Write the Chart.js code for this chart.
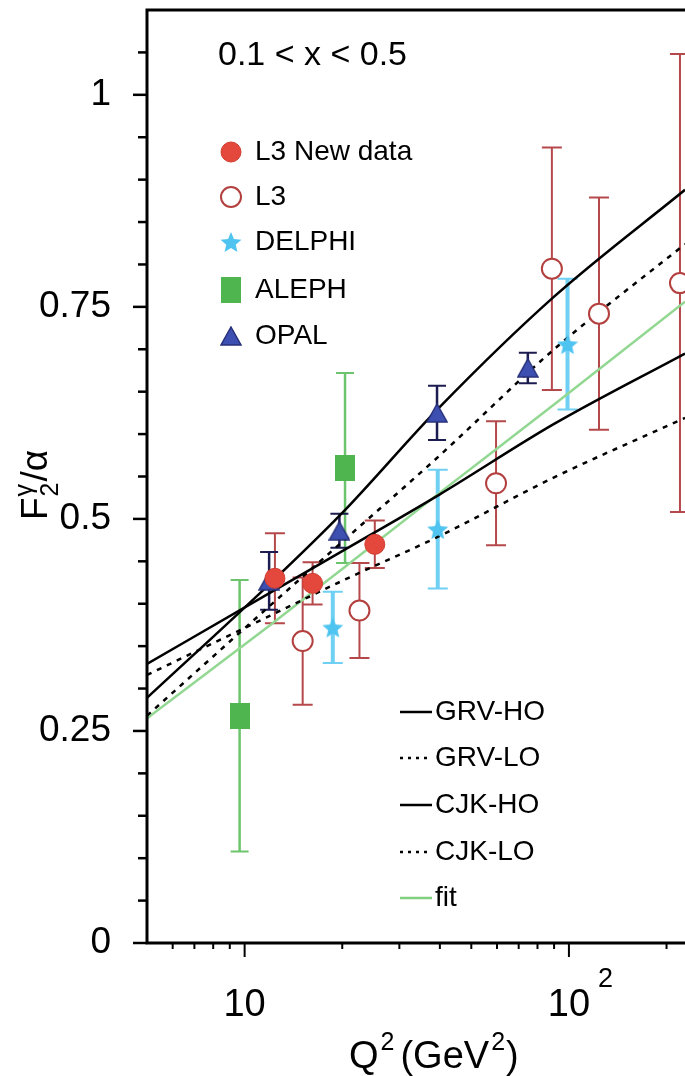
<!DOCTYPE html>
<html>
<head>
<meta charset="utf-8">
<script src="https://cdn.jsdelivr.net/npm/chart.js@4.4.1/dist/chart.umd.min.js"></script>
<style>
html,body{margin:0;padding:0;background:#ffffff;}
canvas{display:block;}
</style>
</head>
<body>
<canvas id="c" width="685" height="1076"></canvas>
<script>
// ---------- data ----------
const panelLabel = '0.1 < x < 0.5';
const yTickValues = [0, 0.25, 0.5, 0.75, 1];
const yTickLabels = ['0', '0.25', '0.5', '0.75', '1'];
const yMinorTicks = [0.05, 0.1, 0.15, 0.2, 0.3, 0.35, 0.4, 0.45, 0.55, 0.6, 0.65, 0.7, 0.8, 0.85, 0.9, 0.95, 1.05];
const xTickValues = [10, 100];
const xTickBase = ['10', '10'];
const xTickSup = ['', '2'];
const xMinorTicks = [6, 7, 8, 9, 20, 30, 40, 50, 60, 70, 80, 90, 200];

const l3NewQ2 = [12.4, 16.2, 25.2];
const l3NewF2 = [0.430, 0.424, 0.470];
const l3NewErr = [0.053, 0.025, 0.028];

const l3Q2 = [15.1, 22.6, 59.6, 88.6, 123.8, 220];
const l3F2 = [0.356, 0.392, 0.542, 0.795, 0.742, 0.778];
const l3Err = [0.075, 0.056, 0.073, 0.143, 0.137, 0.270];

const delphiQ2 = [18.7, 39.4, 99];
const delphiF2 = [0.372, 0.488, 0.706];
const delphiErr = [0.042, 0.070, 0.077];

const alephQ2 = [9.65, 20.4];
const alephF2 = [0.268, 0.560];
const alephErr = [0.160, 0.112];

const opalQ2 = [11.9, 19.6, 39.2, 74.7];
const opalF2 = [0.427, 0.486, 0.625, 0.678];
const opalErr = [0.034, 0.020, 0.032, 0.018];

const curveQ2 = [5, 12, 20, 40, 90, 228];
const grvHO = [0.289, 0.424, 0.507, 0.632, 0.762, 0.888];
const grvLO = [0.268, 0.398, 0.473, 0.575, 0.700, 0.824];
const cjkHO = [0.329, 0.413, 0.462, 0.529, 0.612, 0.695];
const cjkLO = [0.316, 0.386, 0.427, 0.480, 0.549, 0.619];
const fitF2 = [0.265, 0.375, 0.441, 0.531, 0.635, 0.756];

// ---------- styling helpers ----------
const FAM = "'Liberation Sans', Arial, Helvetica, sans-serif";
const fnt = px => px + 'px ' + FAM;

function pts(xs, ys) { return xs.map((x, i) => ({ x: x, y: ys[i] })); }

function makeStar(color, w, h) {
  const c = document.createElement('canvas'); c.width = w; c.height = h;
  const g = c.getContext('2d');
  g.fillStyle = color; g.beginPath();
  for (let i = 0; i < 10; i++) {
    const r = (i % 2 === 0) ? 1 : 0.45;
    const a = -Math.PI / 2 + i * Math.PI / 5;
    const px = w / 2 + r * (w / 2) * Math.cos(a);
    const py = h * 0.55 + r * (h * 0.5) * Math.sin(a);
    if (i === 0) g.moveTo(px, py); else g.lineTo(px, py);
  }
  g.closePath(); g.fill();
  return c;
}
function makeRect(color, w, h) {
  const c = document.createElement('canvas'); c.width = w; c.height = h;
  const g = c.getContext('2d'); g.fillStyle = color; g.fillRect(0, 0, w, h);
  return c;
}
function makeTri(color, edge, w, h) {
  const c = document.createElement('canvas'); c.width = w; c.height = h;
  const g = c.getContext('2d');
  g.fillStyle = color; g.strokeStyle = edge; g.lineWidth = 1.5;
  g.beginPath(); g.moveTo(w / 2, 1); g.lineTo(w - 1, h - 1); g.lineTo(1, h - 1); g.closePath();
  g.fill(); g.stroke();
  return c;
}

const starImg = makeStar('#4fc4f0', 22, 22);
const rectImg = makeRect('#4fb54f', 20, 26);
const triImg = makeTri('#3d50b2', '#27307a', 22, 20);

function lineDs(label, ys, color, dash) {
  return {
    type: 'line', label: label, data: pts(curveQ2, ys),
    borderColor: color, borderWidth: 2.5, borderDash: dash,
    pointRadius: 0, fill: false, cubicInterpolationMode: 'monotone', order: 5
  };
}

const datasets = [
  lineDs('GRV-HO', grvHO, '#000000', []),
  lineDs('GRV-LO', grvLO, '#000000', [5, 6]),
  lineDs('CJK-HO', cjkHO, '#000000', []),
  lineDs('CJK-LO', cjkLO, '#000000', [5, 6]),
  lineDs('fit', fitF2, '#92d892', []),
  { type: 'scatter', label: 'ALEPH', data: pts(alephQ2, alephF2), pointStyle: rectImg,
    errorBars: alephErr, errorColor: '#6cc46c', errorWidth: 2.5, capHalf: 9, order: 1 },
  { type: 'scatter', label: 'L3', data: pts(l3Q2, l3F2), pointStyle: 'circle', pointRadius: 10,
    backgroundColor: '#ffffff', borderColor: '#b3403f', borderWidth: 2,
    errorBars: l3Err, errorColor: '#b5484a', errorWidth: 2, capHalf: 10, order: 1 },
  { type: 'scatter', label: 'DELPHI', data: pts(delphiQ2, delphiF2), pointStyle: starImg,
    errorBars: delphiErr, errorColor: '#6fd0f4', errorWidth: 4, capHalf: 10, order: 1 },
  { type: 'scatter', label: 'L3 New data', data: pts(l3NewQ2, l3NewF2), pointStyle: 'circle', pointRadius: 10,
    backgroundColor: '#e4483c', borderColor: '#d23d31', borderWidth: 1,
    errorBars: l3NewErr, errorColor: '#b5484a', errorWidth: 2, capHalf: 10, order: 0 },
  { type: 'scatter', label: 'OPAL', data: pts(opalQ2, opalF2), pointStyle: triImg,
    errorBars: opalErr, errorColor: '#1c1c50', errorWidth: 2.5, capHalf: 9, order: 0 }
];

// ---------- plugins ----------
const errorBarPlugin = {
  id: 'errorBars',
  beforeDatasetsDraw(chart) {
    const ctx = chart.ctx, xs = chart.scales.x, ys = chart.scales.y, ca = chart.chartArea;
    ctx.save();
    ctx.beginPath(); ctx.rect(ca.left, ca.top, ca.right - ca.left, ca.bottom - ca.top); ctx.clip();
    chart.data.datasets.forEach(ds => {
      if (!ds.errorBars) return;
      ctx.strokeStyle = ds.errorColor; ctx.lineWidth = ds.errorWidth;
      ds.data.forEach((p, i) => {
        const e = ds.errorBars[i];
        const px = xs.getPixelForValue(p.x);
        const t = ys.getPixelForValue(p.y + e), b = ys.getPixelForValue(p.y - e);
        ctx.beginPath();
        ctx.moveTo(px, t); ctx.lineTo(px, b);
        ctx.stroke();
        ctx.lineWidth = 2;
        ctx.beginPath();
        ctx.moveTo(px - ds.capHalf, t); ctx.lineTo(px + ds.capHalf, t);
        ctx.moveTo(px - ds.capHalf, b); ctx.lineTo(px + ds.capHalf, b);
        ctx.stroke();
        ctx.lineWidth = ds.errorWidth;
      });
    });
    ctx.restore();
  }
};

function seg(ctx, x1, y1, x2, y2) { ctx.beginPath(); ctx.moveTo(x1, y1); ctx.lineTo(x2, y2); ctx.stroke(); }

const framePlugin = {
  id: 'frame',
  afterDraw(chart) {
    const ctx = chart.ctx, ca = chart.chartArea, xs = chart.scales.x, ys = chart.scales.y;
    ctx.save();
    ctx.strokeStyle = '#000'; ctx.lineWidth = 3; ctx.lineCap = 'butt';
    ctx.beginPath();
    ctx.moveTo(ca.right, ca.top); ctx.lineTo(ca.left, ca.top); ctx.lineTo(ca.left, ca.bottom); ctx.lineTo(ca.right, ca.bottom);
    ctx.stroke();
    ctx.lineWidth = 2.5;
    yTickValues.forEach(v => { const p = ys.getPixelForValue(v); seg(ctx, ca.left - 14, p, ca.left, p); });
    yMinorTicks.forEach(v => { const p = ys.getPixelForValue(v); seg(ctx, ca.left - 9, p, ca.left, p); });
    ctx.lineWidth = 2;
    xTickValues.forEach(v => { const p = xs.getPixelForValue(v); seg(ctx, p, ca.bottom, p, ca.bottom + 14); });
    xMinorTicks.forEach(v => { const p = xs.getPixelForValue(v); seg(ctx, p, ca.bottom, p, ca.bottom + 6); });

    // x tick labels
    ctx.fillStyle = '#000'; ctx.textBaseline = 'alphabetic';
    xTickValues.forEach((v, i) => {
      const p = xs.getPixelForValue(v);
      ctx.font = fnt(38); ctx.textAlign = 'center';
      ctx.fillText(xTickBase[i], p, ca.bottom + 73);
      if (xTickSup[i]) {
        const w = ctx.measureText(xTickBase[i]).width;
        ctx.font = fnt(27); ctx.textAlign = 'left';
        ctx.fillText(xTickSup[i], p + w / 2 + 8, ca.bottom + 44);
      }
    });

    // x axis title: Q^2 (GeV^2)
    let x = 349; const base = 1068;
    ctx.textAlign = 'left';
    ctx.font = fnt(38); ctx.fillText('Q', x, base); x += ctx.measureText('Q').width + 2;
    ctx.font = fnt(25); ctx.fillText('2', x, base - 18); x += ctx.measureText('2').width + 6;
    ctx.font = fnt(38); ctx.fillText('(GeV', x, base); x += ctx.measureText('(GeV').width + 2;
    ctx.font = fnt(25); ctx.fillText('2', x, base - 18); x += ctx.measureText('2').width + 1;
    ctx.font = fnt(38); ctx.fillText(')', x, base);

    // y axis title: F2^gamma / alpha (rotated)
    ctx.save();
    ctx.translate(47, 520); ctx.rotate(-Math.PI / 2);
    ctx.font = fnt(37); ctx.fillText('F', 0, 0);
    let wx = ctx.measureText('F').width + 1;
    ctx.font = fnt(25);
    ctx.fillText('\u03b3', wx, -15);
    ctx.fillText('2', wx, 11);
    wx += Math.max(ctx.measureText('\u03b3').width, ctx.measureText('2').width) + 1;
    ctx.font = fnt(37); ctx.fillText('/\u03b1', wx, 0);
    ctx.restore();

    // panel label
    ctx.font = fnt(34); ctx.textAlign = 'left'; ctx.textBaseline = 'middle';
    ctx.fillText(panelLabel, 218, 56);

    // data legend
    const rows = [
      { label: 'L3 New data', style: 'circle', fill: '#e4483c', stroke: '#d23d31', bw: 1, y: 152 },
      { label: 'L3', style: 'circle', fill: '#ffffff', stroke: '#b3403f', bw: 2, y: 197 },
      { label: 'DELPHI', style: starImg, y: 242 },
      { label: 'ALEPH', style: rectImg, y: 290 },
      { label: 'OPAL', style: triImg, y: 336 }
    ];
    rows.forEach(r => {
      ctx.fillStyle = r.fill || '#000'; ctx.strokeStyle = r.stroke || '#000'; ctx.lineWidth = r.bw || 1;
      Chart.helpers.drawPoint(ctx, { pointStyle: r.style, radius: 10, borderWidth: r.bw || 0, rotation: 0 }, 231, r.y);
      ctx.fillStyle = '#000'; ctx.font = fnt(28); ctx.textAlign = 'left'; ctx.textBaseline = 'middle';
      ctx.fillText(r.label, 255, r.y);
    });

    // model legend
    const lrows = [
      { label: 'GRV-HO', color: '#000', dash: [], y: 712 },
      { label: 'GRV-LO', color: '#000', dash: [3, 5], y: 758 },
      { label: 'CJK-HO', color: '#000', dash: [], y: 805 },
      { label: 'CJK-LO', color: '#000', dash: [3, 5], y: 852 },
      { label: 'fit', color: '#7fcf7f', dash: [], y: 898 }
    ];
    lrows.forEach(r => {
      ctx.strokeStyle = r.color; ctx.lineWidth = 2.5; ctx.setLineDash(r.dash);
      seg(ctx, 400, r.y, 432, r.y);
      ctx.setLineDash([]);
      ctx.fillStyle = '#000'; ctx.font = fnt(28); ctx.textAlign = 'left'; ctx.textBaseline = 'middle';
      ctx.fillText(r.label, 435, r.y);
    });
    ctx.restore();
  }
};

new Chart(document.getElementById('c').getContext('2d'), {
  type: 'scatter',
  data: { datasets: datasets },
  options: {
    responsive: false, animation: false, devicePixelRatio: 1,
    layout: { autoPadding: false, padding: { top: 10, right: 0, bottom: 0, left: 0 } },
    plugins: { legend: { display: false }, tooltip: { enabled: false } },
    scales: {
      x: {
        type: 'logarithmic', min: 5, max: 228,
        grid: { display: false, drawTicks: false }, border: { display: false },
        ticks: { display: false },
        afterFit(s) { s.height = 133; s.paddingLeft = 0; s.paddingRight = 0; }
      },
      y: {
        type: 'linear', min: 0, max: 1.1,
        afterBuildTicks(s) { s.ticks = yTickValues.map(v => ({ value: v })); },
        grid: { display: false, drawTicks: false }, border: { display: false },
        ticks: {
          color: '#000', padding: 36, font: { family: FAM, size: 37 },
          callback: (v, i) => yTickLabels[yTickValues.indexOf(v)]
        },
        afterFit(s) { s.width = 147; s.paddingTop = 0; s.paddingBottom = 0; }
      }
    }
  },
  plugins: [errorBarPlugin, framePlugin]
});
</script>
</body>
</html>
